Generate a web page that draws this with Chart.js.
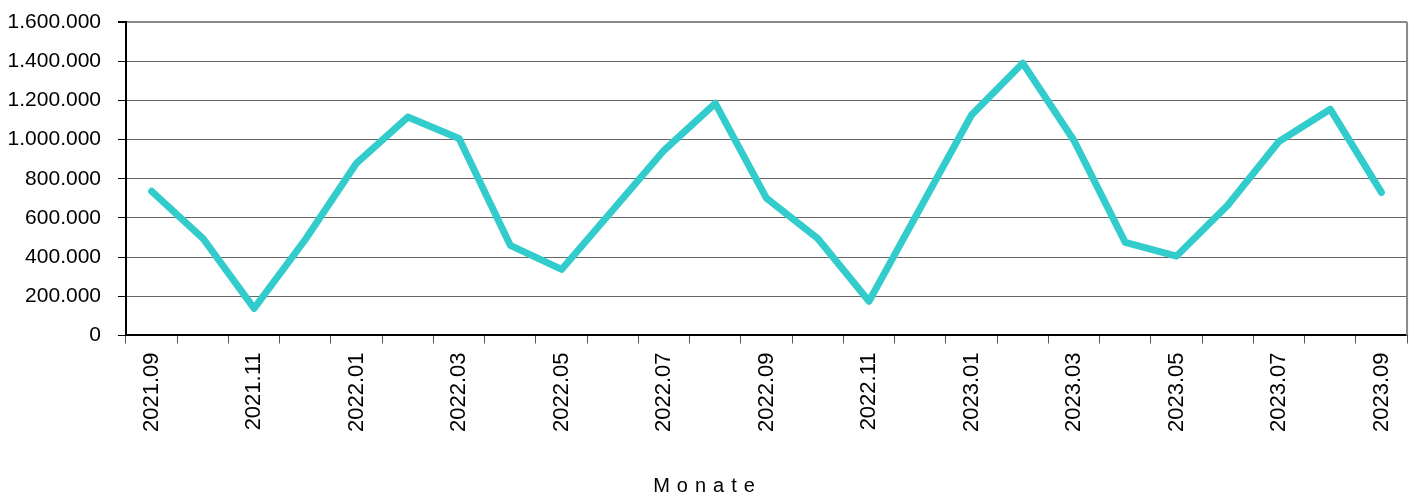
<!DOCTYPE html>
<html>
<head>
<meta charset="utf-8">
<script src="https://cdn.jsdelivr.net/npm/chart.js@4"></script>
<style>
  html, body { margin: 0; padding: 0; background: #fff; }
  #box { width: 1417px; height: 495px; }
</style>
</head>
<body>
<div id="box"><canvas id="myChart"></canvas></div>
<script>
// ---- data ----
const months = [
  '2021.09', '2021.10', '2021.11', '2021.12',
  '2022.01', '2022.02', '2022.03', '2022.04', '2022.05', '2022.06',
  '2022.07', '2022.08', '2022.09', '2022.10', '2022.11', '2022.12',
  '2023.01', '2023.02', '2023.03', '2023.04', '2023.05', '2023.06',
  '2023.07', '2023.08', '2023.09'
];
const values = [
  736000, 496000, 138000, 490000,
  880000, 1115000, 1005000, 460000, 337000, 640000,
  945000, 1185000, 700000, 495000, 175000, 650000,
  1125000, 1390000, 995000, 475000, 405000, 665000,
  990000, 1155000, 730000
];
const yMin = 0;
const yMax = 1600000;
const yStep = 200000;
const axisTitle = 'Monate';

// german thousands separator
function fmt(v) {
  return String(v).replace(/\B(?=(\d{3})+(?!\d))/g, '.');
}

// right border of the plot + letter spaced axis title centred on the page
const frame = {
  id: 'frame',
  afterDraw(chart) {
    const { ctx, chartArea: a } = chart;
    ctx.save();
    ctx.strokeStyle = '#888';
    ctx.lineWidth = 2;
    ctx.beginPath();
    ctx.moveTo(a.right, a.top);
    ctx.lineTo(a.right, a.bottom);
    ctx.stroke();
    ctx.restore();
  },
  beforeDraw(chart) {
    const s = chart.scales.x;
    if (s && !s._spaced) {
      const orig = s.drawTitle.bind(s);
      s.drawTitle = function () {
        const c = this.ctx;
        c.save();
        c.letterSpacing = '7px';
        c.translate(chart.width / 2 - (this.left + this.right) / 2 - 1, 3);
        orig();
        c.restore();
      };
      s._spaced = true;
    }
  }
};

Chart.defaults.font.family = "'Liberation Sans', Arial, sans-serif";
Chart.defaults.color = '#000';

new Chart(document.getElementById('myChart'), {
  type: 'line',
  data: {
    labels: months,
    datasets: [{
      data: values,
      borderColor: '#33CCCC',
      borderWidth: 7,
      pointRadius: 0,
      tension: 0,
      borderJoinStyle: 'round',
      borderCapStyle: 'round'
    }]
  },
  options: {
    responsive: true,
    maintainAspectRatio: false,
    animation: false,
    layout: { padding: { left: 0, right: 8, top: 22, bottom: 0 } },
    plugins: { legend: { display: false }, tooltip: { enabled: false } },
    scales: {
      x: {
        offset: true,
        grid: {
          offset: true,
          drawOnChartArea: false,
          drawTicks: true,
          tickLength: 8,
          color: '#555',
          lineWidth: 1
        },
        border: { color: '#000', width: 2 },
        ticks: {
          autoSkip: false,
          maxRotation: 90,
          minRotation: 90,
          padding: 9,
          font: { size: 22 },
          callback: (v, i) => (i % 2 === 0 ? months[i] : '')
        },
        title: {
          display: true,
          text: axisTitle,
          font: { size: 20 },
          padding: { top: 30, bottom: 0 }
        }
      },
      y: {
        min: yMin,
        max: yMax,
        afterFit: (s) => {
          s.width = 126;
          s.paddingTop = 0;
          s.paddingBottom = 0;
        },
        grid: {
          color: (c) => (c.tick.value === yMax ? '#888' : '#666'),
          lineWidth: (c) => (c.tick.value === yMax ? 2 : 1),
          tickLength: 8,
          tickColor: '#000'
        },
        border: { color: '#000', width: 2 },
        ticks: {
          stepSize: yStep,
          padding: 17,
          font: { size: 21 },
          callback: (v) => fmt(v)
        }
      }
    }
  },
  plugins: [frame]
});
</script>
</body>
</html>
